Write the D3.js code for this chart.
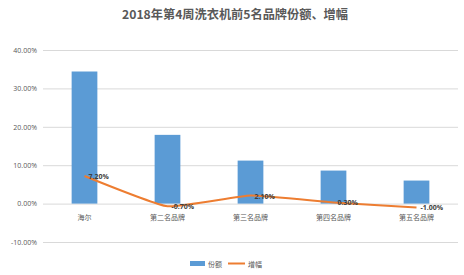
<!DOCTYPE html>
<html>
<head>
<meta charset="utf-8">
<script src="https://cdn.jsdelivr.net/npm/d3@7"></script>
<style>
  body { margin: 0; background: #fff; }
  text { font-family: "Noto Sans CJK SC", "Open Sans", sans-serif; }
</style>
</head>
<body>
<div id="chart"></div>
<script>
const categories = ["海尔", "第二名品牌", "第三名品牌", "第四名品牌", "第五名品牌"];
const share = [34.4, 17.9, 11.2, 8.6, 6.0];   // 份额 %
const growth = [7.2, -0.7, 2.1, 0.3, -1.0];   // 增幅 %
const yTicks = [-10, 0, 10, 20, 30, 40];

const width = 464, height = 275;
const margin = { top: 50, right: 6, bottom: 33, left: 43 };

const svg = d3.select("#chart").append("svg")
  .attr("width", width)
  .attr("height", height);

svg.append("text")
  .attr("x", width / 2 + 3)
  .attr("y", 19)
  .attr("text-anchor", "middle")
  .attr("font-size", 12.2)
  .attr("font-weight", "bold")
  .attr("fill", "#595959")
  .text("2018年第4周洗衣机前5名品牌份额、增幅");

const x = d3.scaleBand()
  .domain(categories)
  .range([margin.left, width - margin.right])
  .paddingInner(0.69)
  .paddingOuter(0.345);

const y = d3.scaleLinear()
  .domain([-10, 40])
  .range([height - margin.bottom, margin.top]);

// gridlines + y labels
const yAxis = svg.append("g")
  .attr("transform", `translate(${margin.left},0)`)
  .call(d3.axisLeft(y).tickValues(yTicks)
    .tickSize(-(width - margin.left - margin.right))
    .tickPadding(6)
    .tickFormat(d => d.toFixed(2) + "%"));
yAxis.select(".domain").remove();
yAxis.selectAll(".tick line").attr("stroke", "#d9d9d9");
yAxis.selectAll(".tick text").attr("fill", "#595959").attr("font-size", 7)
  .style("font-family", "'Open Sans', sans-serif");

// bars
svg.append("g")
  .selectAll("rect")
  .data(share)
  .join("rect")
  .attr("x", (d, i) => x(categories[i]))
  .attr("width", x.bandwidth())
  .attr("y", d => y(d))
  .attr("height", d => y(0) - y(d))
  .attr("fill", "#5b9bd5");

// x labels
svg.append("g")
  .selectAll("text")
  .data(categories)
  .join("text")
  .attr("x", d => x(d) + x.bandwidth() / 2)
  .attr("y", y(0) + 16)
  .attr("text-anchor", "middle")
  .attr("font-size", 7)
  .attr("fill", "#595959")
  .text(d => d);

// growth line
const cx = i => x(categories[i]) + x.bandwidth() / 2;
const line = d3.line()
  .x((d, i) => cx(i))
  .y(d => y(d))
  .curve(d3.curveCardinal.tension(0.6));

svg.append("path")
  .datum(growth)
  .attr("fill", "none")
  .attr("stroke", "#ed7d31")
  .attr("stroke-width", 2)
  .attr("d", line);

svg.append("g")
  .selectAll("text")
  .data(growth)
  .join("text")
  .attr("x", (d, i) => cx(i) + 4)
  .attr("y", d => y(d) + 3)
  .attr("font-size", 7)
  .attr("font-weight", "bold")
  .attr("fill", "#404040")
  .style("font-family", "'Open Sans', sans-serif")
  .text(d => d.toFixed(2) + "%");

// legend
const lg = svg.append("g").attr("transform", `translate(190,${height - 11})`);
lg.append("rect").attr("x", 0).attr("y", -3).attr("width", 15).attr("height", 5).attr("fill", "#5b9bd5");
lg.append("text").attr("x", 18).attr("y", 2.5).attr("font-size", 7).attr("fill", "#595959").text("份额");
lg.append("line").attr("x1", 38).attr("x2", 55).attr("y1", -0.5).attr("y2", -0.5)
  .attr("stroke", "#ed7d31").attr("stroke-width", 2);
lg.append("text").attr("x", 58).attr("y", 2.5).attr("font-size", 7).attr("fill", "#595959").text("增幅");
</script>
</body>
</html>
